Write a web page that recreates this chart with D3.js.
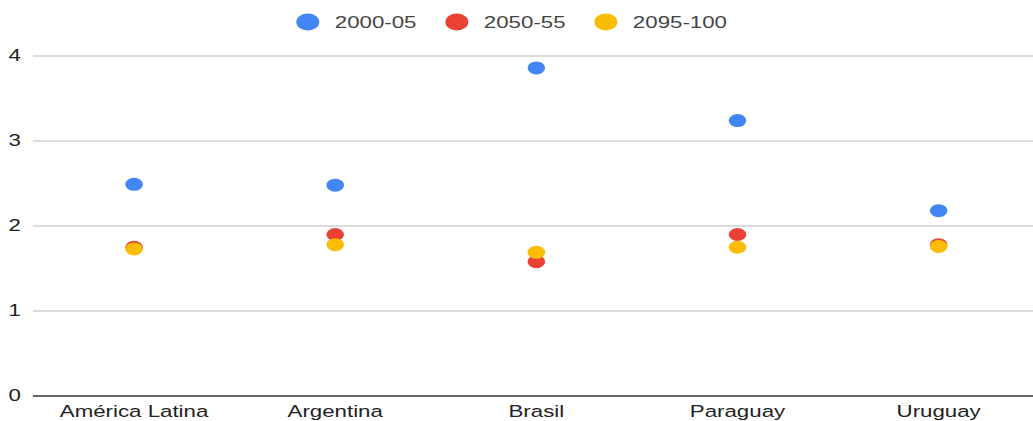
<!DOCTYPE html>
<meta charset="utf-8">
<script src="https://d3js.org/d3.v7.min.js"></script>
<style>
  body { margin: 0; background: #fff; }
  text { font-family: "Liberation Sans", Arial, sans-serif; }
</style>
<div id="chart"></div>
<script>
// data
const categories = ["América Latina", "Argentina", "Brasil", "Paraguay", "Uruguay"];
const seriesNames = ["2000-05", "2050-55", "2095-100"];
const seriesColors = ["#4285f4", "#ea4335", "#fbbc04"];
const values2000 = [2.49, 2.48, 3.86, 3.24, 2.18];
const values2050 = [1.75, 1.90, 1.58, 1.90, 1.78];
const values2095 = [1.73, 1.78, 1.69, 1.75, 1.76];
const yTicks = [0, 1, 2, 3, 4];

const allSeries = [values2000, values2050, values2095];

// the reference is horizontally stretched, so draw in a narrower space and stretch it
const W = 1033, H = 421, stretch = 1.35;
const vw = W / stretch;

const svg = d3.select("#chart")
  .append("svg")
  .attr("width", W)
  .attr("height", H)
  .attr("viewBox", `0 0 ${vw} ${H}`)
  .attr("preserveAspectRatio", "none");

const x = d3.scaleBand()
  .domain(categories)
  .range([24.8, 24.8 + 5 * 149]);

const y = d3.scaleLinear()
  .domain([0, 4])
  .range([396, 56]);

// gridlines
svg.append("g")
  .selectAll("line")
  .data(yTicks.filter(d => d !== 0))
  .join("line")
    .attr("x1", 24.4)
    .attr("x2", vw)
    .attr("y1", d => y(d))
    .attr("y2", d => y(d))
    .attr("stroke", "#d0d0d0")
    .attr("stroke-width", 1.3);

// baseline
svg.append("line")
  .attr("x1", 24.4)
  .attr("x2", vw)
  .attr("y1", y(0))
  .attr("y2", y(0))
  .attr("stroke", "#333")
  .attr("stroke-width", 1.5);

// y labels
svg.append("g")
  .selectAll("text")
  .data(yTicks)
  .join("text")
    .attr("x", 15.5)
    .attr("y", d => y(d) + 5.5)
    .attr("text-anchor", "end")
    .attr("font-size", 16.5)
    .attr("fill", "#222")
    .text(d => d);

// x labels
svg.append("g")
  .selectAll("text")
  .data(categories)
  .join("text")
    .attr("x", d => x(d) + x.bandwidth() / 2)
    .attr("y", 417)
    .attr("text-anchor", "middle")
    .attr("font-size", 16.5)
    .attr("fill", "#222")
    .text(d => d);

// points
allSeries.forEach((vals, s) => {
  svg.append("g")
    .selectAll("circle")
    .data(vals)
    .join("circle")
      .attr("cx", (d, i) => x(categories[i]) + x.bandwidth() / 2)
      .attr("cy", d => y(d))
      .attr("r", 6.5)
      .attr("fill", seriesColors[s]);
});

// legend
const legend = svg.append("g")
  .selectAll("g")
  .data(seriesNames)
  .join("g")
    .attr("transform", (d, i) => `translate(${228 + i * 110.4}, 22)`);

legend.append("circle")
  .attr("r", 8.5)
  .attr("fill", (d, i) => seriesColors[i]);

legend.append("text")
  .attr("x", 20)
  .attr("y", 6)
  .attr("font-size", 16.5)
  .attr("fill", "#444")
  .text(d => d);
</script>
</html>
